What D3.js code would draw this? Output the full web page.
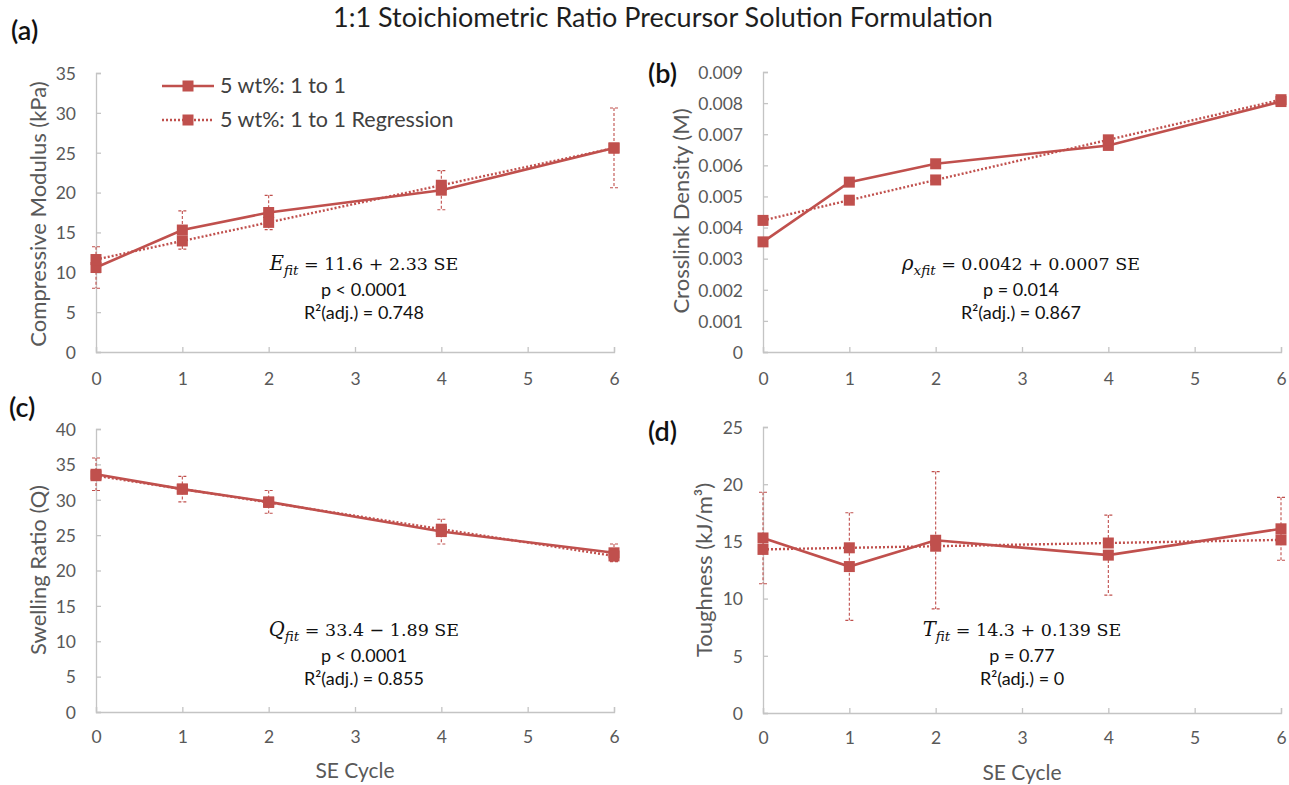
<!DOCTYPE html>
<html><head><meta charset="utf-8">
<script src="https://cdn.jsdelivr.net/npm/d3@7"></script>
<style>
html,body{margin:0;padding:0;background:#fff;}
svg{display:block;font-family:Lato,"Open Sans",sans-serif;}
</style></head>
<body><svg id="c" width="1289" height="785"></svg>
<script>
// ---- data ----
const seCycle = [0, 1, 2, 4, 6];
const xTicks = [0, 1, 2, 3, 4, 5, 6];

const modulus = [10.6, 15.3, 17.5, 20.3, 25.6];
const modulusErr = [2.6, 2.4, 2.15, 2.45, 5.0];
const modulusFit = [11.6, 13.93, 16.26, 20.92, 25.58];
const modulusTicks = [0, 5, 10, 15, 20, 25, 30, 35];

const xlinkDensity = [0.00354, 0.00546, 0.00605, 0.00664, 0.00805];
const xlinkFit = [0.00423, 0.00488, 0.00553, 0.00682, 0.00811];
const xlinkTicks = [0, 0.001, 0.002, 0.003, 0.004, 0.005, 0.006, 0.007, 0.008, 0.009];

const swelling = [33.6, 31.5, 29.7, 25.5, 22.5];
const swellingErr = [2.3, 1.8, 1.6, 1.75, 1.25];
const swellingFit = [33.4, 31.51, 29.62, 25.84, 22.06];
const swellingTicks = [0, 5, 10, 15, 20, 25, 30, 35, 40];

const toughness = [15.3, 12.8, 15.1, 13.8, 16.1];
const toughnessErr = [4.0, 4.7, 6.0, 3.5, 2.75];
const toughnessFit = [14.3, 14.44, 14.58, 14.86, 15.13];
const toughnessTicks = [0, 5, 10, 15, 20, 25];

const legendLabels = ["5 wt%: 1 to 1", "5 wt%: 1 to 1 Regression"];
const titleText = "1:1 Stoichiometric Ratio Precursor Solution Formulation";

// ---- drawing ----
const RED = "#c0504d";
const AXIS = "#c4c4c4";
const TICKTXT = "#595959";
const svg = d3.select("#c");

svg.append("text").attr("x", 663).attr("y", 27).attr("text-anchor", "middle")
  .attr("font-size", 27).attr("fill", "#1e1e1e").text(titleText);

function panel(o) {
  const x = d3.scaleLinear().domain([0, 6]).range([o.x0, o.x1]);
  const y = d3.scaleLinear().domain([0, o.ymax]).range([o.y0, o.y1]);
  const g = svg.append("g");

  // axes
  const ya = d3.axisLeft(y).tickValues(o.ticks).tickSize(-5).tickPadding(20)
    .tickFormat(o.fmt || d3.format("d"));
  const yg = g.append("g").attr("transform", `translate(${o.x0},0)`).call(ya);
  const xa = d3.axisBottom(x).tickValues(xTicks).tickSize(-5).tickPadding(0).tickFormat(d3.format("d"));
  const xg = g.append("g").attr("transform", `translate(0,${o.y0})`).call(xa);
  [yg, xg].forEach(a => {
    a.select(".domain").attr("stroke", AXIS).attr("stroke-width", 1.3);
    a.selectAll(".tick line").attr("stroke", AXIS).attr("stroke-width", 1.3);
    a.selectAll(".tick text").attr("fill", TICKTXT).attr("font-size", 17.5).attr("font-family", "Lato,sans-serif");
  });
  yg.selectAll(".tick text").attr("dy", "0.36em");
  xg.selectAll(".tick text").attr("dy", 0).attr("y", o.xlabOff);

  // error bars
  if (o.err) {
    const eb = g.append("g").attr("stroke", RED).attr("stroke-width", 1.1).attr("stroke-dasharray", "3,2").attr("fill", "none");
    seCycle.forEach((s, i) => {
      const cx = x(s), t = y(o.vals[i] + o.err[i]), b = y(o.vals[i] - o.err[i]);
      eb.append("line").attr("x1", cx).attr("x2", cx).attr("y1", t).attr("y2", b);
      eb.append("line").attr("x1", cx - 4).attr("x2", cx + 4).attr("y1", t).attr("y2", t);
      eb.append("line").attr("x1", cx - 4).attr("x2", cx + 4).attr("y1", b).attr("y2", b);
    });
  }

  const line = d3.line().x((d, i) => x(seCycle[i])).y(d => y(d));
  g.append("path").datum(o.vals).attr("d", line).attr("fill", "none")
    .attr("stroke", RED).attr("stroke-width", 2.6);
  g.append("path").datum(o.fit).attr("d", line).attr("fill", "none")
    .attr("stroke", RED).attr("stroke-width", 2.4).attr("stroke-dasharray", "2,2");
  const ms = 11;
  [o.vals, o.fit].forEach(arr => {
    g.selectAll(null).data(arr).enter().append("rect")
      .attr("x", (d, i) => x(seCycle[i]) - ms / 2).attr("y", d => y(d) - ms / 2)
      .attr("width", ms).attr("height", ms).attr("fill", RED);
  });

  // y title
  g.append("text").attr("transform", `translate(${o.ytx},${o.yty}) rotate(-90)`)
    .attr("text-anchor", "middle").attr("font-size", 22).attr("fill", TICKTXT)
    .text(o.ytitle);
  if (o.xtitle) {
    g.append("text").attr("x", (o.x0 + o.x1) / 2).attr("y", o.xtY).attr("text-anchor", "middle")
      .attr("font-size", 21).attr("fill", TICKTXT).text("SE Cycle");
  }
  // panel label
  g.append("text").attr("x", o.lx).attr("y", o.ly).attr("font-size", 27).attr("font-weight", 600)
    .attr("fill", "#111").text(o.label);

  // annotation
  const ax = o.annX, ay = o.annY;
  const eq = g.append("text").attr("x", ax).attr("y", ay).attr("text-anchor", "middle")
    .attr("font-family", "'DejaVu Serif','Liberation Serif',serif").attr("font-size", 17.5).attr("fill", "#111");
  eq.append("tspan").attr("font-style", "italic").attr("font-size", 19.5).text(o.sym);
  eq.append("tspan").attr("font-style", "italic").attr("font-size", 13.5).attr("dy", 5).text(o.sub);
  eq.append("tspan").attr("dy", -5).text(o.eq);
  g.append("text").attr("x", ax).attr("y", ay + 26).attr("text-anchor", "middle")
    .attr("font-size", 18).attr("fill", "#111").text(o.p);
  g.append("text").attr("x", ax).attr("y", ay + 49).attr("text-anchor", "middle")
    .attr("font-size", 18).attr("fill", "#111").text(o.r2);
  return { x, y, g };
}

panel({
  x0: 96, x1: 614, y0: 352, y1: 73, ymax: 35, ticks: modulusTicks,
  vals: modulus, fit: modulusFit, err: modulusErr, xlabOff: 33,
  ytitle: "Compressive Modulus (kPa)", ytx: 46, yty: 214,
  label: "(a)", lx: 11, ly: 40,
  annX: 364, annY: 270, sym: "E", sub: "fit", eq: " =  11.6 + 2.33 SE",
  p: "p < 0.0001", r2: "R²(adj.) = 0.748"
});
panel({
  x0: 763, x1: 1281, y0: 352, y1: 72, ymax: 0.009, ticks: xlinkTicks,
  fmt: d => d === 0 ? "0" : d3.format(".3f")(d),
  vals: xlinkDensity, fit: xlinkFit, err: null, xlabOff: 33,
  ytitle: "Crosslink Density (M)", ytx: 689, yty: 211,
  label: "(b)", lx: 648, ly: 83,
  annX: 1021, annY: 270, sym: "ρ", sub: "xfit", eq: " = 0.0042 + 0.0007 SE",
  p: "p = 0.014", r2: "R²(adj.) = 0.867"
});
panel({
  x0: 96, x1: 614, y0: 712, y1: 429, ymax: 40, ticks: swellingTicks,
  vals: swelling, fit: swellingFit, err: swellingErr, xlabOff: 31,
  ytitle: "Swelling Ratio (Q)", ytx: 46, yty: 570, xtitle: true, xtY: 778,
  label: "(c)", lx: 9, ly: 417,
  annX: 364, annY: 636, sym: "Q", sub: "fit", eq: " =  33.4 − 1.89 SE",
  p: "p < 0.0001", r2: "R²(adj.) = 0.855"
});
panel({
  x0: 763, x1: 1281, y0: 713, y1: 427, ymax: 25, ticks: toughnessTicks,
  vals: toughness, fit: toughnessFit, err: toughnessErr, xlabOff: 31,
  ytitle: "Toughness (kJ/m³)", ytx: 712, yty: 570, xtitle: true, xtY: 780,
  label: "(d)", lx: 648, ly: 441,
  annX: 1022, annY: 636, sym: "T", sub: "fit", eq: " =  14.3 + 0.139 SE",
  p: "p = 0.77", r2: "R²(adj.) = 0"
});

// legend in panel (a)
const lg = svg.append("g");
[0, 1].forEach(i => {
  const yy = i === 0 ? 86 : 120;
  lg.append("line").attr("x1", 162).attr("x2", 214).attr("y1", yy).attr("y2", yy)
    .attr("stroke", RED).attr("stroke-width", i === 0 ? 2.6 : 2.4)
    .attr("stroke-dasharray", i === 0 ? null : "2,2");
  lg.append("rect").attr("x", 188 - 5.5).attr("y", yy - 5.5).attr("width", 11).attr("height", 11).attr("fill", RED);
  lg.append("text").attr("x", 220).attr("y", yy + 7).attr("font-size", 21.5).attr("fill", "#404040").text(legendLabels[i]);
});
</script></body></html>
